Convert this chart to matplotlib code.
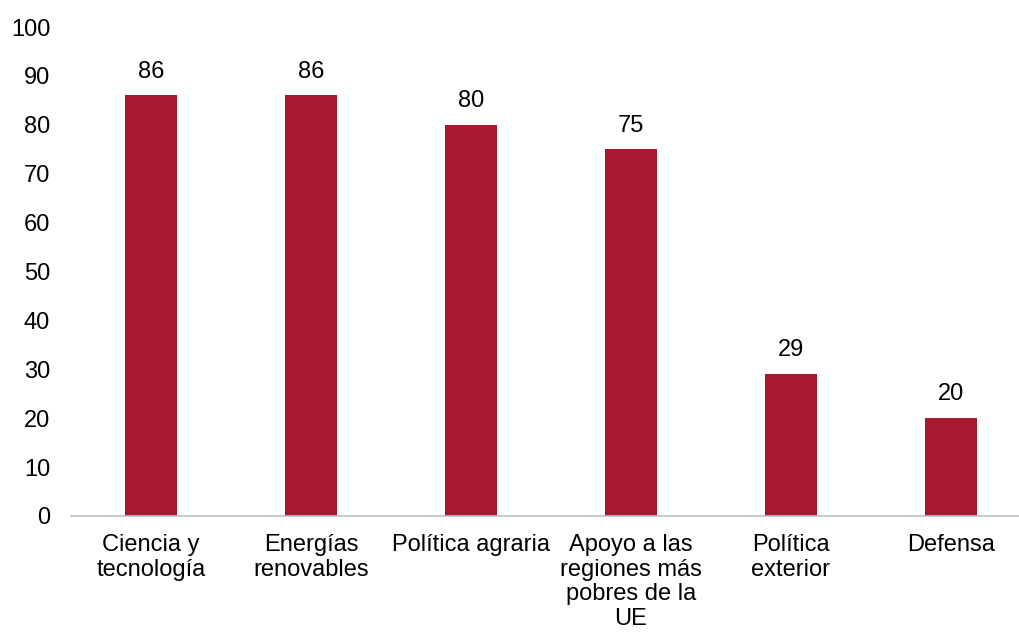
import matplotlib
matplotlib.use('Agg')
import matplotlib.pyplot as plt

categories = ['Ciencia y\ntecnología', 'Energías\nrenovables', 'Política agraria',
              'Apoyo a las\nregiones más\npobres de la\nUE', 'Política\nexterior', 'Defensa']
values = [86, 86, 80, 75, 29, 20]

plt.rcParams['font.family'] = ['Liberation Sans', 'DejaVu Sans']

fig = plt.figure(figsize=(10.2, 6.34), dpi=100)
# axes run slightly past the right edge, like the original
ax = fig.add_axes([71 / 1020, 118 / 634, 960 / 1020, 489 / 634])

x = range(len(categories))
bars = ax.bar(x, values, width=0.32, color='#A6192E')
for xi, v in zip(x, values):
    ax.text(xi, v + 2.6, str(v), ha='center', va='bottom', fontsize=17)

ax.set_xlim(-0.5, 5.5)
ax.set_ylim(0, 100)
ax.set_yticks(range(0, 101, 10))
ax.set_xticks(list(x))
ax.set_xticklabels(categories, fontsize=17, linespacing=1.15)
ax.tick_params(axis='y', length=0, labelsize=17, pad=15)
ax.tick_params(axis='x', length=0, pad=13)
for s in ['top', 'right', 'left']:
    ax.spines[s].set_visible(False)
ax.spines['bottom'].set_color('#BFBFBF')
ax.spines['bottom'].set_linewidth(1.2)
ax.spines['bottom'].set_clip_on(False)

plt.savefig('out.png', dpi=100)
